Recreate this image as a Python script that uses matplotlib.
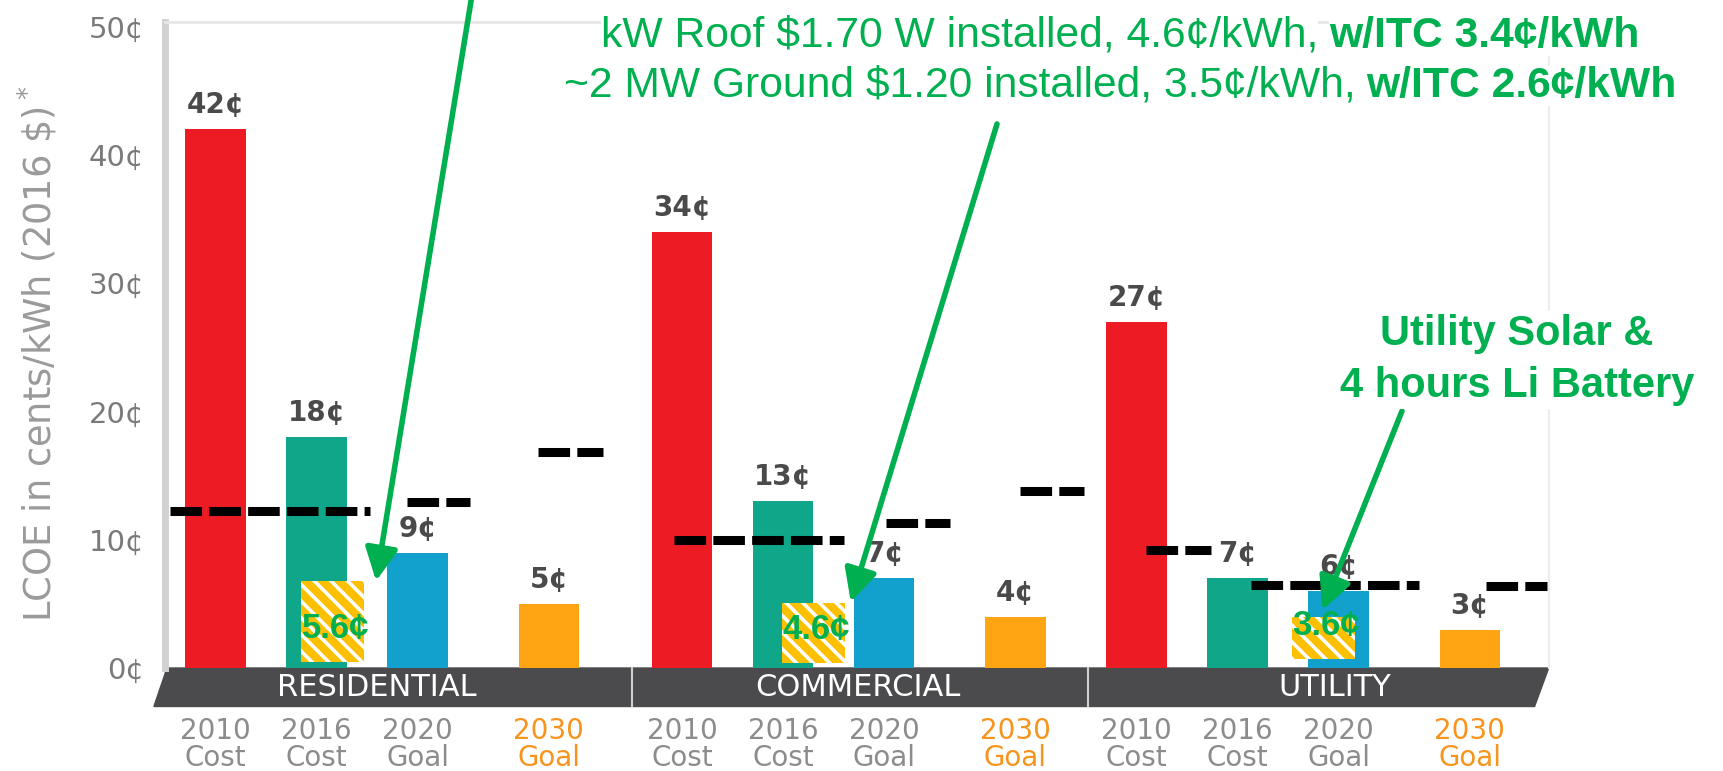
import matplotlib
matplotlib.use("Agg")
import matplotlib.pyplot as plt
import numpy as np

# data
groups = ["RESIDENTIAL", "COMMERCIAL", "UTILITY"]
tick_labels = ["2010\nCost", "2016\nCost", "2020\nGoal", "2030\nGoal"]
cost_2010 = [42, 34, 27]
cost_2016 = [18, 13, 7]
goal_2020 = [9, 7, 6]
goal_2030 = [5, 4, 3]

# dashed black levels: level, start, end (in bar slot units)
dash_level = [12.2, 12.9, 16.8, 10.0, 11.3, 13.8, 9.2, 6.5, 6.4]
dash_start = [-0.45, 1.90, 3.19, 4.54, 6.64, 7.97, 9.21, 10.25, 12.58]
dash_end = [1.53, 2.52, 3.84, 6.22, 7.27, 8.60, 9.86, 11.92, 13.18]

# yellow hatched ITC boxes
itc_labels = ["5.6¢", "4.6¢", "3.6¢"]
itc_x = [1.16, 5.92, 10.97]
itc_bottom = [0.5, 0.4, 0.7]
itc_top = [6.8, 5.1, 4.0]

W, H = 1723, 771
green_txt = "#00b050"
colors = ["#ed1c24", "#0fa68a", "#12a0cc", "#ffa412"]

plt.rcParams["hatch.linewidth"] = 2.6

fig = plt.figure(figsize=(W / 100, H / 100), dpi=100)
ax = fig.add_axes([165 / W, 103 / H, 1383.7 / W, 646 / H])
ax.set_xlim(-0.5, 13.2)
ax.set_ylim(0, 50.35)

group_x = np.array([0, 4.62, 9.12])
offsets = [0, 1, 2, 3.3]
series = [cost_2010, cost_2016, goal_2020, goal_2030]

xticks, xlabs = [], []
for i, vals in enumerate(series):
    x = group_x + offsets[i]
    bars = ax.bar(x, vals, width=0.6, color=colors[i], zorder=2)
    ax.bar_label(bars, labels=[f"{v}¢" for v in vals], padding=7,
                 fontsize=20, fontweight="bold", color="#4a4a4a")
    xticks += list(x)
    xlabs += [tick_labels[i]] * len(x)

# hatched boxes
for xc, b, t in zip(itc_x, itc_bottom, itc_top):
    ax.bar(xc, t - b, bottom=b, width=0.63, color="#fcc000",
           edgecolor="white", linewidth=0, hatch="\\\\", zorder=3)
for xc, b, lab in zip(itc_x, itc_bottom, itc_labels):
    ax.text(xc + 0.03, b + 2.6, lab, ha="center", va="center", fontsize=25,
            fontweight="bold", color=green_txt, family="Liberation Sans", zorder=4)

# dashed levels
for lv, s, e in zip(dash_level, dash_start, dash_end):
    ax.plot([s, e], [lv, lv], color="black", lw=6.5, ls=(0, (3.5, 0.8)),
            zorder=5)

# category band
ax.fill([-0.48, 13.2, 13.06, -0.61], [0, 0, -3.0, -3.0], color="#4b4b4d",
        clip_on=False, zorder=1)
for sx in [4.12, 8.64]:
    ax.plot([sx, sx], [0, -3.0], color="#d0d0d0", lw=1.5, clip_on=False, zorder=1)
for gx, g in zip([1.6, 6.36, 11.08], groups):
    ax.text(gx, -1.5, g, ha="center", va="center", color="white", fontsize=22,
            zorder=2, clip_on=False)

# axes styling
order = np.argsort(xticks)
ax.set_xticks(np.array(xticks)[order])
ax.set_xticklabels(np.array(xlabs)[order], fontsize=20, linespacing=0.95)
for tl in ax.get_xticklabels():
    tl.set_color("#f7941d" if tl.get_text().startswith("2030") else "#8c8c8c")
ax.tick_params(axis="x", length=0, pad=35)

yt = [0, 10, 20, 30, 40, 50]
ax.set_yticks(yt)
ax.set_yticklabels([f"{v}¢" for v in yt], fontsize=21, color="#7a7a7a")
ax.tick_params(axis="y", length=0, pad=15)
ax.set_ylabel("LCOE in cents/kWh (2016 \\$)$^*$", fontsize=26.5, color="#9a9a9a")
ax.yaxis.set_label_coords(-0.076, 0.486)

ax.spines["bottom"].set_visible(False)
ax.spines["left"].set_color("#d2d2d2")
ax.spines["left"].set_linewidth(5)
ax.spines["top"].set_color("#e6e6e6")
ax.spines["top"].set_linewidth(2)
ax.spines["right"].set_color("#ececec")
ax.spines["right"].set_linewidth(1.5)

# arrows
arrow = dict(arrowstyle="-|>,head_length=0.9,head_width=0.45", lw=4,
             color=green_txt, mutation_scale=22, shrinkA=0, shrinkB=0)
ax.annotate("", xy=(1.59, 6.78), xytext=(472, 776), textcoords="figure pixels",
            arrowprops=arrow, annotation_clip=False, zorder=6)
ax.annotate("", xy=(6.29, 5.14), xytext=(997, 647), textcoords="figure pixels",
            arrowprops=arrow, annotation_clip=False, zorder=6)
ax.annotate("", xy=(10.96, 4.52), xytext=(1402, 360), textcoords="figure pixels",
            arrowprops=arrow, annotation_clip=False, zorder=6)

# top annotation lines (regular + bold parts)
box = dict(facecolor="white", edgecolor="none", pad=0)


def two_part(cx, cy, reg, bold, size):
    t1 = fig.text(0, 1 - cy / H, reg, fontsize=size, color=green_txt,
                  family="Liberation Sans", va="center", bbox=box, zorder=4)
    t2 = fig.text(0, 1 - cy / H, bold, fontsize=size, color=green_txt,
                  family="Liberation Sans", fontweight="bold", va="center",
                  bbox=box, zorder=3)
    fig.canvas.draw()
    r = fig.canvas.get_renderer()
    w1 = t1.get_window_extent(r).width
    w2 = t2.get_window_extent(r).width
    gap = size * 100 / 72 * 0.25
    x0 = cx - (w1 + gap + w2) / 2
    t1.set_x(x0 / W)
    t2.set_x((x0 + w1 + gap) / W)


two_part(1120, 36, "kW Roof $1.70 W installed, 4.6¢/kWh,", "w/ITC 3.4¢/kWh", 30.7)
two_part(1120, 86, "~2 MW Ground $1.20 installed, 3.5¢/kWh,", "w/ITC 2.6¢/kWh", 30.7)

fig.text(1517 / W, 1 - 360 / H, "Utility Solar &\n4 hours Li Battery",
         ha="center", va="center", fontsize=30, fontweight="bold",
         color=green_txt, family="Liberation Sans", linespacing=1.38,
         bbox=dict(facecolor="white", edgecolor="none", pad=2))

fig.savefig("out.png", dpi=100, facecolor="white")
